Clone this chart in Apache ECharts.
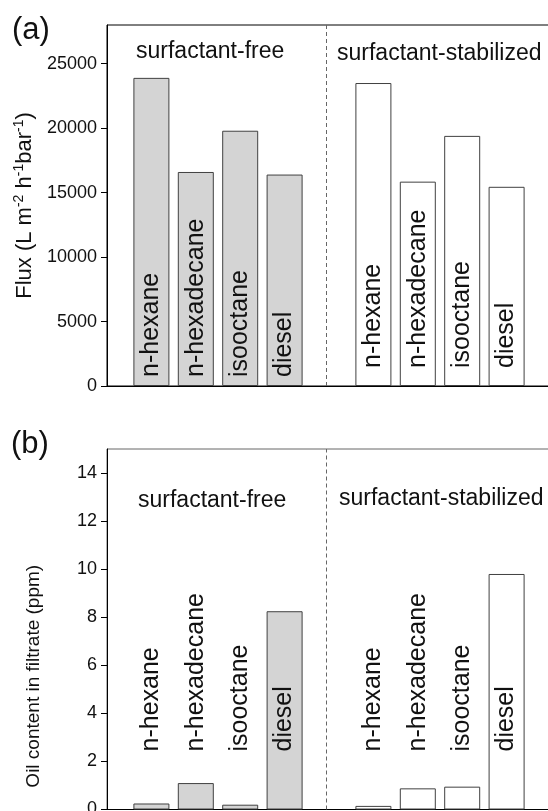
<!DOCTYPE html>
<html><head><meta charset="utf-8">
<script src="https://cdn.jsdelivr.net/npm/echarts@6/dist/echarts.min.js"></script>
<style>html,body{margin:0;padding:0;background:#fff}#c{width:548px;height:811px}</style>
</head><body><div id="c"></div>
<script>
// ---- data ----
const oils = ['n-hexane', 'n-hexadecane', 'isooctane', 'diesel'];
const groups = ['surfactant-free', 'surfactant-stabilized'];
const fluxFree = [23900, 16600, 19800, 16400];
const fluxStab = [23500, 15850, 19400, 15450];
const oilFree = [0.25, 1.1, 0.2, 8.25];
const oilStab = [0.15, 0.88, 0.95, 9.8];
const fluxTicks = [0, 5000, 10000, 15000, 20000, 25000];
const oilTicks = [0, 2, 4, 6, 8, 10, 12, 14];
const fluxMax = 28000;
const oilMax = 15;
const groupSlot = [1, 6];     // first category slot of each group on the x scale
const dividerAt = 4.93;       // dashed separator position on the x scale
const xMax = 10;

// ---- build ----
const FONT = 'Liberation Sans, Arial, sans-serif';
const chart = echarts.init(document.getElementById('c'), null, {renderer: 'canvas'});

function barItems(vals, g) {
  return vals.map((v, i) => ({name: oils[i], value: [groupSlot[g] + i, v]}));
}
function barSeries(vals, g, axisIdx, labelDist, withDivider) {
  const s = {
    type: 'bar', xAxisIndex: axisIdx, yAxisIndex: axisIdx,
    data: barItems(vals, g), barWidth: 36, barGap: '-100%',
    itemStyle: {color: g === 0 ? '#d4d4d4' : '#ffffff', borderColor: '#404040', borderWidth: 1},
    label: {show: true, position: 'insideBottom', distance: labelDist, rotate: 90,
      align: 'left', verticalAlign: 'middle', formatter: '{b}',
      fontFamily: FONT, fontSize: 25, color: '#111'},
    emphasis: {disabled: true}, silent: true
  };
  if (withDivider) {
    s.markLine = {silent: true, symbol: 'none', label: {show: false},
      lineStyle: {type: [4, 3], color: '#666', width: 1},
      data: [{xAxis: dividerAt}]};
  }
  return s;
}
function xAx(gi) {
  return {type: 'value', gridIndex: gi, min: 0, max: xMax,
    axisLine: {show: true, onZero: false, lineStyle: {color: '#000', width: 1}},
    axisTick: {show: false}, axisLabel: {show: false}, splitLine: {show: false}};
}
function yAx(gi, max, ticks, name, gap, rich, pad) {
  return {type: 'value', gridIndex: gi, min: 0, max: max,
    axisLine: {show: true, lineStyle: {color: '#000', width: 1}},
    axisTick: {show: true, inside: false, length: 6, customValues: ticks, lineStyle: {color: '#000'}},
    axisLabel: {show: true, customValues: ticks, margin: 10, fontFamily: FONT, fontSize: 18, color: '#111',
      formatter: v => String(v)},
    splitLine: {show: false},
    name: name, nameLocation: 'middle', nameGap: gap, nameRotate: 90,
    nameTextStyle: {fontFamily: FONT, fontSize: 19, color: '#111', rich: rich, padding: pad}};
}
const richA = {
  t: {fontFamily: FONT, fontSize: 22, color: '#111', lineHeight: 25},
  s: {fontFamily: FONT, fontSize: 14, color: '#111', verticalAlign: 'top', lineHeight: 15}
};
const tStyle = (fs) => ({fontFamily: FONT, fontSize: fs, fontWeight: 'normal', color: '#111'});

const option = {
  animation: false,
  backgroundColor: '#fff',
  title: [
    {text: '(a)', left: 12, top: 15, padding: 0, textStyle: tStyle(31)},
    {text: '(b)', left: 11, top: 429, padding: 0, textStyle: tStyle(31)},
    {text: groups[0], left: 136, top: 40, padding: 0, textStyle: tStyle(23)},
    {text: groups[1], left: 337, top: 42, padding: 0, textStyle: tStyle(23)},
    {text: groups[0], left: 138, top: 489, padding: 0, textStyle: tStyle(23)},
    {text: groups[1], left: 339, top: 487, padding: 0, textStyle: tStyle(23)}
  ],
  grid: [
    {left: 107, top: 25, width: 444, height: 361, show: true, borderColor: '#000', borderWidth: 1,
      backgroundColor: 'transparent', outerBoundsMode: 'none', containLabel: false},
    {left: 107, top: 449, width: 444, height: 360.5, show: true, borderColor: '#666', borderWidth: 1,
      backgroundColor: 'transparent', outerBoundsMode: 'none', containLabel: false}
  ],
  xAxis: [xAx(0), xAx(1)],
  yAxis: [
    yAx(0, fluxMax, fluxTicks, '{t|Flux (L m}{s|-2}{t| h}{s|-1}{t|bar}{s|-1}{t|)}', 62, richA, 0),
    yAx(1, oilMax, oilTicks, 'Oil content in filtrate (ppm)', 64, undefined, [0, 94, 0, 0])
  ],
  series: [
    barSeries(fluxFree, 0, 0, 9, true),
    barSeries(fluxStab, 1, 0, 18, false),
    barSeries(oilFree, 0, 1, 58, true),
    barSeries(oilStab, 1, 1, 58, false)
  ]
};
chart.setOption(option);
</script>
</body></html>
